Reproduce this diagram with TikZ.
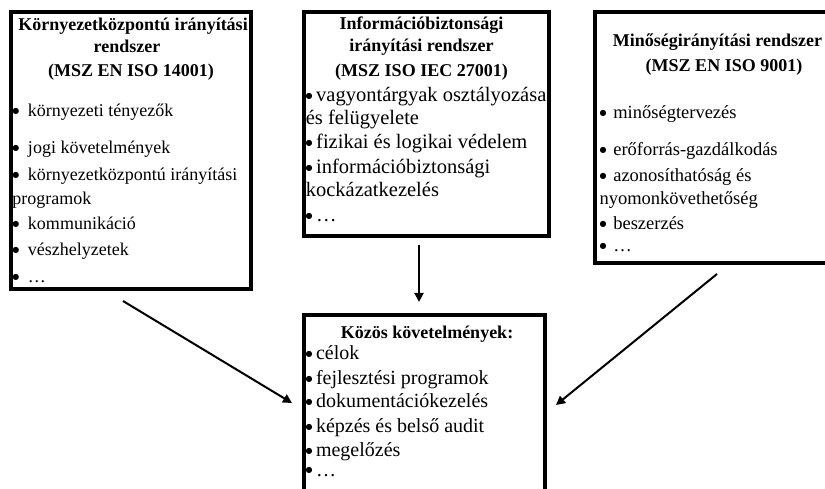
\documentclass[tikz,border=0pt]{standalone}
\usepackage{fontspec}
\setmainfont{Liberation Serif}
\newfontfamily\symfont{DejaVu Sans}
\usetikzlibrary{arrows.meta}

\tikzset{
  frame/.style={draw=black, line width=4pt, inner sep=0pt, outer sep=0pt},
  ttl/.style={inner sep=0pt, outer sep=0pt, anchor=base, font=\fontsize{18}{18}\selectfont\bfseries},
  itm/.style={inner sep=0pt, outer sep=0pt, anchor=base west},
  arr/.style={line width=2pt, -{Triangle[length=9pt,width=9pt]}},
}
% round bullet set in a box of the given width, the item text follows it
\newcommand{\bulgap}[1]{\makebox[#1][l]{\raisebox{3.3pt}{\symfont\fontsize{8}{8}\selectfont ●}}}

\begin{document}
\begin{tikzpicture}[x=1pt,y=-1pt]
\useasboundingbox (0,0) rectangle (825,489);
\clip (0,0) rectangle (825,489);

% ---- frames ----
\node[frame, minimum width=240pt, minimum height=277pt]   (ems)    at (131,150.5)    {};
\node[frame, minimum width=245pt, minimum height=224.5pt] (isms)   at (426,124.25)   {};
\node[frame, minimum width=250pt, minimum height=251pt]   (qms)    at (720,137.5)    {};
\node[frame, minimum width=241.5pt, minimum height=215pt] (common) at (424.25,422.5) {};

% ---- environmental management system ----
\node[ttl] (emsT1) at (133,31) {Környezetközpontú irányítási};
\node[ttl] (emsT2) at (127,53) {rendszer};
\node[ttl] (emsT3) at (131,77) {(MSZ EN ISO 14001)};
\begin{scope}[every node/.append style={itm, font=\fontsize{18}{21}\selectfont}]
  \node (ems1)  at (12.5,117)   {\bulgap{15.5pt}környezeti tényezők};
  \node (ems2)  at (12.5,154)   {\bulgap{15.5pt}jogi követelmények};
  \node (ems3)  at (12.5,181)   {\bulgap{15.5pt}környezetközpontú irányítási};
  \node (ems3b) at (12.5,205)   {programok};
  \node (ems4)  at (12.5,230)   {\bulgap{15.5pt}kommunikáció};
  \node (ems5)  at (12.5,256)   {\bulgap{15.5pt}vészhelyzetek};
  \node (ems6)  at (12.5,283)   {\bulgap{15.5pt}…};
\end{scope}

% ---- information security management system ----
\node[ttl] (ismsT1) at (421.5,30) {Információbiztonsági};
\node[ttl] (ismsT2) at (421.5,52) {irányítási rendszer};
\node[ttl] (ismsT3) at (421.5,77) {(MSZ ISO IEC 27001)};
\begin{scope}[every node/.append style={itm, font=\fontsize{20.5}{24}\selectfont}]
  \node (isms1)  at (305.6,101.5) {\bulgap{10.6pt}vagyontárgyak osztályozása};
  \node (isms1b) at (305.8,125)   {és felügyelete};
  \node (isms2)  at (305.6,148.5) {\bulgap{10.6pt}fizikai és logikai védelem};
  \node (isms3)  at (305.6,173.5) {\bulgap{10.6pt}információbiztonsági};
  \node (isms3b) at (305.8,197)   {kockázatkezelés};
  \node (isms4)  at (305.6,222)   {\bulgap{10.6pt}…};
\end{scope}

% ---- quality management system ----
\node[ttl] (qmsT1) at (717.5,47) {Minőségirányítási rendszer};
\node[ttl] (qmsT2) at (724,72)   {(MSZ EN ISO 9001)};
\begin{scope}[every node/.append style={itm, font=\fontsize{18.5}{22}\selectfont}]
  \node (qms1)  at (599.5,119) {\bulgap{13.8pt}minőségtervezés};
  \node (qms2)  at (599.5,156) {\bulgap{13.8pt}erőforrás-gazdálkodás};
  \node (qms3)  at (599.5,182) {\bulgap{13.8pt}azonosíthatóság és};
  \node (qms3b) at (599.5,205) {nyomonkövethetőség};
  \node (qms4)  at (599.5,230) {\bulgap{13.8pt}beszerzés};
  \node (qms5)  at (599.5,252) {\bulgap{13.8pt}…};
\end{scope}

% ---- common requirements ----
\node[ttl] (commonT) at (427,338) {Közös követelmények:};
\begin{scope}[every node/.append style={itm, font=\fontsize{20}{24}\selectfont}]
  \node (com1) at (305.6,359.5) {\bulgap{10.4pt}célok};
  \node (com2) at (305.6,384.5) {\bulgap{10.4pt}fejlesztési programok};
  \node (com3) at (305.6,407.5) {\bulgap{10.4pt}dokumentációkezelés};
  \node (com4) at (305.6,432.5) {\bulgap{10.4pt}képzés és belső audit};
  \node (com5) at (305.6,456.5) {\bulgap{10.4pt}megelőzés};
  \node (com6) at (305.6,476)   {\bulgap{10.4pt}…};
\end{scope}

% ---- arrows into the common requirements ----
\coordinate (emsOut)    at (123,301);
\coordinate (emsIn)     at (292,403);
\coordinate (ismsOut)   at (419,245);
\coordinate (ismsIn)    at (419,302);
\coordinate (qmsOut)    at (717,274);
\coordinate (qmsIn)     at (556,405);
\draw[arr] (emsOut)  -- (emsIn);
\draw[arr] (ismsOut) -- (ismsIn);
\draw[arr] (qmsOut)  -- (qmsIn);
\end{tikzpicture}
\end{document}
